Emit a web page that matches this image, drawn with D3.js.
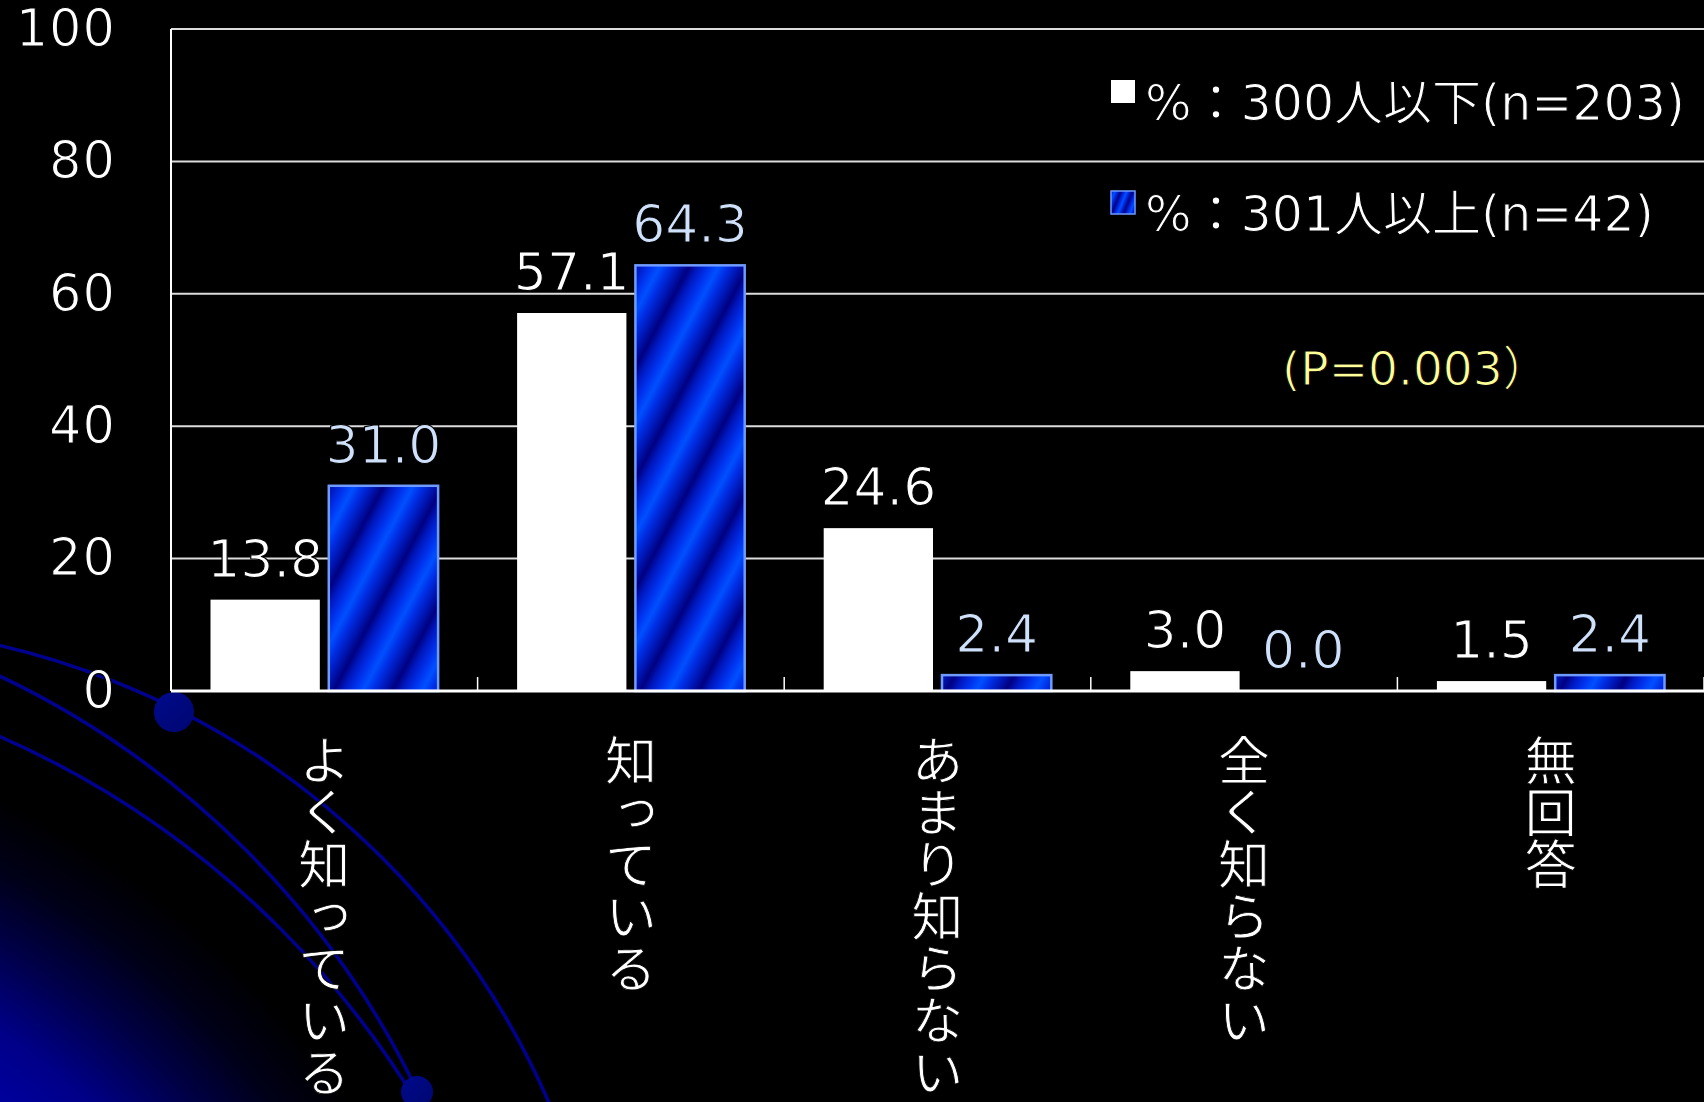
<!DOCTYPE html>
<html><head><meta charset="utf-8">
<script src="https://cdn.jsdelivr.net/npm/d3@7"></script>
<style>
html,body{margin:0;padding:0;background:#000;}
svg{display:block;}
</style></head>
<body>
<svg id="chart" width="1704" height="1102"></svg>
<script>
// ---- data ----
const categories = ["よく知っている", "知っている", "あまり知らない", "全く知らない", "無回答"];
const seriesNames = ["%：300人以下(n=203)", "%：301人以上(n=42)"];
const smallOrgPct = [13.8, 57.1, 24.6, 3.0, 1.5];
const largeOrgPct = [31.0, 64.3, 2.4, 0.0, 2.4];
const yTicks = [0, 20, 40, 60, 80, 100];
const pNote = "(P=0.003）";

// ---- layout & style ----
const W = 1704, H = 1102;
const plot = {left: 171, right: 1704, top: 29, bottom: 691};
const numFont = "'DejaVu Sans', 'Noto Sans CJK JP', sans-serif";
const jpFont = "'Noto Sans CJK JP', sans-serif";
const seriesValues = [smallOrgPct, largeOrgPct];
const seriesFill = ["#ffffff", "url(#stripes)"];
const seriesStroke = ["none", "#6f9bff"];
const seriesLabelColor = ["#ffffff", "#cfe0fa"];

// thin strokes for the rounded-gothic look: a black outline trims the glyphs
function thin(sel, w) {
  sel.attr("stroke", "#000").attr("stroke-width", w).attr("stroke-linejoin", "round");
}

const svg = d3.select("#chart");
const defs = svg.append("defs");

// background + corner glow
svg.append("rect").attr("width", W).attr("height", H).attr("fill", "#000");
const glow = defs.append("radialGradient").attr("id", "glow")
  .attr("gradientUnits", "userSpaceOnUse").attr("cx", -373).attr("cy", 1582).attr("r", 924);
[[0, "#0000c8"], [0.62, "#0000aa"], [0.72, "#000088"], [0.8, "#000048"], [0.87, "#000018"], [0.94, "#000000"]]
  .forEach(([o, c]) => glow.append("stop").attr("offset", o).attr("stop-color", c));
svg.append("rect").attr("width", W).attr("height", H).attr("fill", "url(#glow)");

// decorative arcs and dots
const deco = svg.append("g");
[{cx: -180, cy: 1420, r: 795}, {cx: -382, cy: 1478, r: 888}, {cx: -373, cy: 1582, r: 924}]
  .forEach(a => deco.append("circle").attr("cx", a.cx).attr("cy", a.cy).attr("r", a.r)
    .attr("fill", "none").attr("stroke", "#00008e").attr("stroke-width", 3.5));
const dotGrad = defs.append("linearGradient").attr("id", "dotGrad")
  .attr("x1", 0).attr("y1", 0).attr("x2", 1).attr("y2", 1);
dotGrad.append("stop").attr("offset", 0).attr("stop-color", "#000a8c");
dotGrad.append("stop").attr("offset", 1).attr("stop-color", "#000670");
[{cx: 174, cy: 712, r: 20}, {cx: 417, cy: 1092, r: 16}]
  .forEach(d => deco.append("circle").attr("cx", d.cx).attr("cy", d.cy).attr("r", d.r).attr("fill", "url(#dotGrad)"));

// striped blue fill
function stripePattern(id, period, angle) {
  const g = defs.append("linearGradient").attr("id", id + "Grad")
    .attr("x1", 0).attr("x2", 1).attr("y1", 0).attr("y2", 0);
  [[0, "#000080"], [0.15, "#0018c0"], [0.35, "#0034f0"], [0.5, "#0050ff"], [0.65, "#0030e8"], [0.85, "#0014b0"], [1, "#000080"]]
    .forEach(([o, c]) => g.append("stop").attr("offset", o).attr("stop-color", c));
  const p = defs.append("pattern").attr("id", id).attr("patternUnits", "userSpaceOnUse")
    .attr("width", period).attr("height", period).attr("patternTransform", `rotate(${angle})`);
  p.append("rect").attr("width", period).attr("height", period).attr("fill", `url(#${id}Grad)`);
}
stripePattern("stripes", 52, 28);
stripePattern("stripesSmall", 11, 22);

// scales
const y = d3.scaleLinear().domain([0, 100]).range([plot.bottom, plot.top]);
const x0 = d3.scaleBand().domain(categories).range([plot.left, plot.right]);
const x1 = d3.scaleBand().domain(d3.range(seriesNames.length))
  .range([39.5, x0.bandwidth() - 39.5]).paddingInner(0.076);

// gridlines
svg.append("g").selectAll("line").data(yTicks.filter(t => t > 0)).join("line")
  .attr("x1", plot.left).attr("x2", plot.right)
  .attr("y1", d => y(d)).attr("y2", d => y(d))
  .attr("stroke", "#dcdcdc").attr("stroke-width", 2);

// y axis labels
const yAxis = svg.append("g").attr("transform", `translate(${plot.left},0)`)
  .call(d3.axisLeft(y).tickValues(yTicks).tickSize(0).tickPadding(55));
yAxis.select(".domain").remove();
yAxis.selectAll("text").attr("font-family", numFont).attr("font-size", 51)
  .attr("letter-spacing", 1).attr("fill", "#fff").call(thin, 1.2);

// bars
const groups = svg.append("g").selectAll("g").data(categories).join("g")
  .attr("transform", c => `translate(${x0(c)},0)`);
groups.each(function(c, i) {
  const g = d3.select(this);
  seriesNames.forEach((s, k) => {
    const v = seriesValues[k][i];
    if (v > 0) {
      g.append("rect")
        .attr("x", x1(k)).attr("width", x1.bandwidth())
        .attr("y", y(v)).attr("height", y(0) - y(v))
        .attr("fill", seriesFill[k])
        .attr("stroke", seriesStroke[k]).attr("stroke-width", 2.5);
    }
    g.append("text")
      .attr("x", x1(k) + x1.bandwidth() / 2).attr("y", y(v) - 23)
      .attr("text-anchor", "middle")
      .attr("font-family", numFont).attr("font-size", 52)
      .attr("fill", seriesLabelColor[k])
      .call(thin, 1.2)
      .text(v.toFixed(1));
  });
});

// axes lines
svg.append("line").attr("x1", plot.left).attr("x2", plot.left).attr("y1", plot.top).attr("y2", plot.bottom)
  .attr("stroke", "#fff").attr("stroke-width", 2);
svg.append("line").attr("x1", plot.left).attr("x2", plot.right).attr("y1", y(0)).attr("y2", y(0))
  .attr("stroke", "#fff").attr("stroke-width", 3);
const tickXs = categories.map(c => x0(c)).concat([plot.right]);
svg.append("g").selectAll("line").data(tickXs).join("line")
  .attr("x1", d => d).attr("x2", d => d).attr("y1", y(0)).attr("y2", y(0) - 14)
  .attr("stroke", "#fff").attr("stroke-width", 1.5);

// vertical category labels
svg.append("g").selectAll("text").data(categories).join("text")
  .attr("x", c => x0(c) + x0.bandwidth() / 2).attr("y", 734)
  .style("writing-mode", "vertical-rl").style("text-orientation", "upright")
  .attr("font-family", jpFont).attr("font-size", 52).attr("fill", "#fff")
  .call(thin, 0.9)
  .text(c => c);

// legend
const legend = svg.append("g");
const legendSwatch = ["#ffffff", "url(#stripesSmall)"];
seriesNames.forEach((s, k) => {
  const base = 120 + k * 111;
  legend.append("rect").attr("x", 1111).attr("y", base - 40).attr("width", 24).attr("height", 23)
    .attr("fill", legendSwatch[k]).attr("stroke", seriesStroke[k]).attr("stroke-width", 1.5);
  legend.append("text").attr("x", 1145).attr("y", base)
    .attr("font-family", numFont).attr("font-size", 49).attr("fill", "#fff")
    .call(thin, 1.1)
    .text(s);
});

// significance note
svg.append("text").attr("x", 1282).attr("y", 385)
  .attr("font-family", numFont).attr("font-size", 47).attr("fill", "#ffff99")
  .call(thin, 1)
  .text(pNote);
</script>
</body></html>
